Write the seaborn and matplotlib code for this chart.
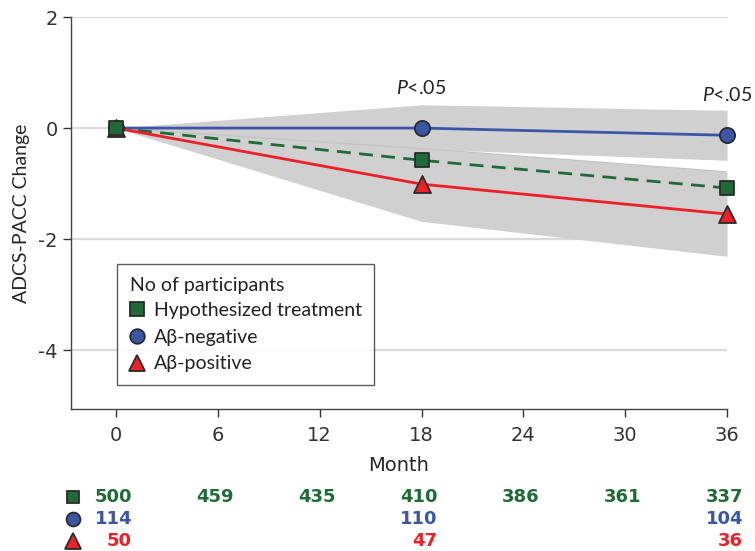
import numpy as np
import pandas as pd
import seaborn as sns
import matplotlib as mpl
from matplotlib import pyplot as plt
from matplotlib.lines import Line2D

# values
months = [0, 18, 36]
trt_mean = [0.0, -0.58, -1.08]
neg_mean = [0.0, 0.0, -0.13]
neg_lo = [0.0, -0.38, -0.58]
neg_hi = [0.0, 0.42, 0.32]
pos_mean = [0.0, -1.01, -1.55]
pos_lo = [0.0, -1.68, -2.31]
pos_hi = [0.0, -0.37, -0.79]

tick_months = [0, 6, 12, 18, 24, 30, 36]
n_trt = ['500', '459', '435', '410', '386', '361', '337']
n_neg_months = [0, 18, 36]
n_neg = ['114', '110', '104']
n_pos_months = [0, 18, 36]
n_pos = ['50', '47', '36']
p_months = [18, 36]

GREEN = '#1f6b36'
BLUE = '#3b55a7'
RED = '#ee2026'
EDGE = '#2b2b2b'
LATO = ['Lato', 'DejaVu Sans']

sns.set_theme(style='white')
mpl.rcParams['font.family'] = ['DejaVu Sans']
mpl.rcParams['mathtext.fontset'] = 'custom'
mpl.rcParams['mathtext.it'] = 'Lato:italic'
mpl.rcParams['mathtext.rm'] = 'Lato'
mpl.rcParams['axes.edgecolor'] = '#444444'
mpl.rcParams['text.color'] = '#222222'
mpl.rcParams['xtick.color'] = '#333333'
mpl.rcParams['ytick.color'] = '#333333'

df = pd.DataFrame({
    'month': months * 3,
    'change': trt_mean + neg_mean + pos_mean,
    'group': ['trt'] * 3 + ['neg'] * 3 + ['pos'] * 3,
})

fig = plt.figure(figsize=(7.55, 5.51), dpi=100)
ax = fig.add_axes([0.094, 0.2577, 0.869, 0.7114])

for v in [2, 0, -2, -4]:
    ax.axhline(v, color='#dadada', lw=1.6, zorder=0)

# confidence bands
ax.fill_between(months, neg_lo, neg_hi, color='#d1d0d1', lw=0, zorder=1)
ax.fill_between(months, pos_lo, pos_hi, color='#d1d0d1', lw=0, zorder=1)
ax.plot(months, pos_hi, color='#c4c3c4', lw=1, zorder=1)

sns.lineplot(data=df[df.group == 'trt'], x='month', y='change', color=GREEN, lw=2,
             ax=ax, zorder=3).lines[-1].set_dashes([5, 3])
sns.lineplot(data=df[df.group == 'neg'], x='month', y='change', color=BLUE, lw=2, ax=ax, zorder=3)
sns.lineplot(data=df[df.group == 'pos'], x='month', y='change', color=RED, lw=2, ax=ax, zorder=3)

sns.scatterplot(data=df[df.group == 'neg'], x='month', y='change', marker='o', s=120,
                color=BLUE, edgecolor=EDGE, linewidth=1.3, ax=ax, zorder=4)
sns.scatterplot(data=df[df.group == 'pos'], x='month', y='change', marker='^', s=150,
                color=RED, edgecolor=EDGE, linewidth=1.3, ax=ax, zorder=5)
sns.scatterplot(data=df[df.group == 'trt'], x='month', y='change', marker='s', s=110,
                color=GREEN, edgecolor=EDGE, linewidth=1.3, ax=ax, zorder=6)
for c in ax.collections:
    c.set_clip_on(False)

ax.set_xlim(-2.65, 36)
ax.set_ylim(-5.06, 2)
ax.set_xticks(tick_months)
ax.set_yticks([2, 0, -2, -4])
ax.set_yticklabels(['2', '0', '-2', '-4'])
ax.tick_params(axis='both', labelsize=14, length=6, width=1, direction='out',
               bottom=True, left=True)
ax.tick_params(axis='x', pad=6)
sns.despine(ax=ax)
ax.spines['left'].set_linewidth(1)
ax.spines['bottom'].set_linewidth(1)
ax.set_xlabel('Month', fontsize=14, labelpad=8)
ax.set_ylabel('ADCS-PACC Change', fontsize=14, family=LATO, labelpad=6)

# P value annotations
ax.text(p_months[0], 0.73, r'$P$' + '<.05', ha='center', va='center', fontsize=14,
        family=LATO)
ax.text(p_months[1] + 1.5, 0.6, r'$P$' + '<.05', ha='right', va='center', fontsize=14,
        family=LATO, clip_on=False)

# legend
handles = [
    Line2D([], [], ls='', marker='s', ms=10, mfc=GREEN, mec=EDGE, mew=1.3),
    Line2D([], [], ls='', marker='o', ms=10.5, mfc=BLUE, mec=EDGE, mew=1.3),
    Line2D([], [], ls='', marker='^', ms=11, mfc=RED, mec=EDGE, mew=1.3),
]
labels = ['Hypothesized treatment', 'A\u03b2-negative', 'A\u03b2-positive']
leg = ax.legend(handles, labels, title='No of participants', loc='lower left',
                bbox_to_anchor=(0.07, 0.061), borderaxespad=0, frameon=True, fancybox=False,
                alignment='left', handlelength=0.8, handletextpad=0.45, labelspacing=0.5,
                borderpad=0.65, prop={'family': LATO, 'size': 14},
                title_fontproperties={'family': LATO, 'size': 14})
leg.get_frame().set_edgecolor('#333333')
leg.get_frame().set_linewidth(1)
leg._legend_box.sep = 6

# number at risk table
trans = mpl.transforms.blended_transform_factory(ax.transData, fig.transFigure)
rows = [(tick_months, n_trt, GREEN, 1 - 497 / 551),
        (n_neg_months, n_neg, BLUE, 1 - 519 / 551),
        (n_pos_months, n_pos, RED, 1 - 541 / 551)]
for xs, labs, col, yy in rows:
    for m, lab in zip(xs, labs):
        ax.text(m + 0.95, yy, lab, transform=trans, ha='right', va='center', fontsize=13,
                fontweight='bold', color=col, clip_on=False)

mk = [('s', GREEN, 9), ('o', BLUE, 10), ('^', RED, 11)]
for (m, col, ms), (_, _, _, yy) in zip(mk, rows):
    fig.add_artist(Line2D([73 / 755], [yy], ls='', marker=m, ms=ms, mfc=col, mec=EDGE, mew=1.3,
                          transform=fig.transFigure))

fig.savefig('out.png', dpi=100)
